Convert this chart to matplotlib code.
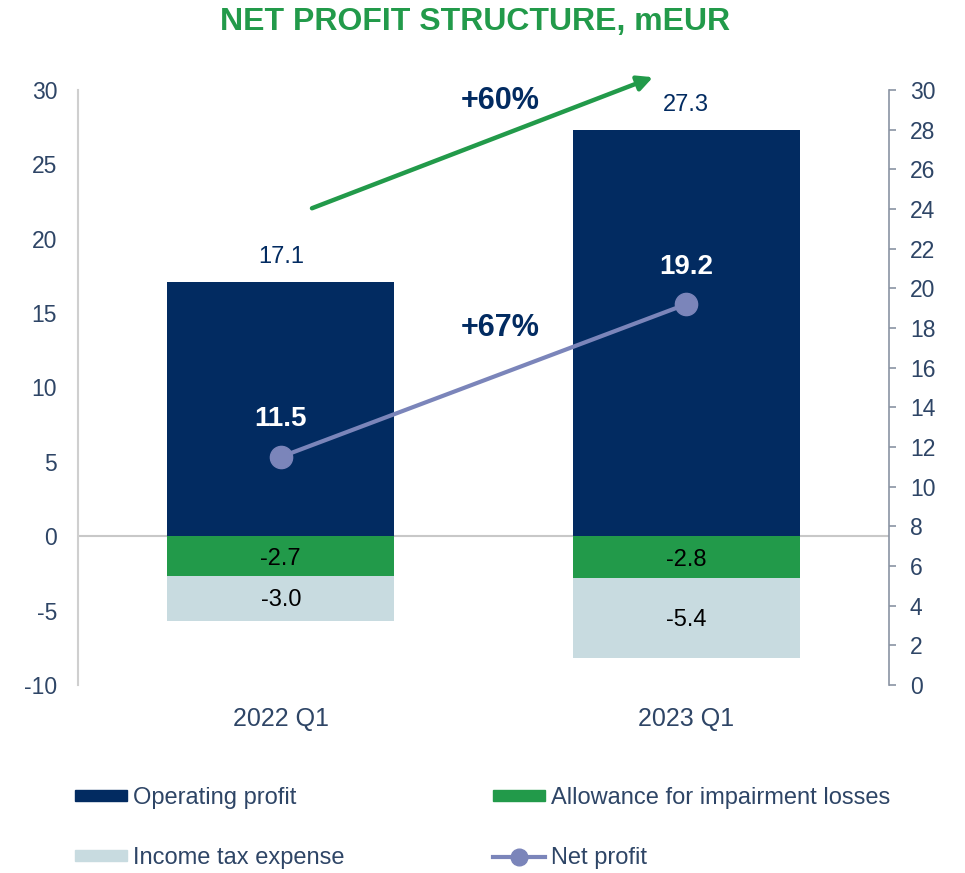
import matplotlib
matplotlib.use("Agg")
import matplotlib.pyplot as plt
from matplotlib.lines import Line2D
from matplotlib.patches import Patch

plt.rcParams['font.family'] = ['Liberation Sans', 'DejaVu Sans']
plt.rcParams['axes.unicode_minus'] = False

categories = ["2022 Q1", "2023 Q1"]
operating_profit = [17.1, 27.3]
allowance = [-2.7, -2.8]
income_tax = [-3.0, -5.4]
net_profit = [11.5, 19.2]
left_ticks = [-10, -5, 0, 5, 10, 15, 20, 25, 30]
right_ticks = list(range(0, 31, 2))
growth_operating = "+60%"
growth_net = "+67%"

C_NAVY = "#022B61"
C_GREEN = "#229A4A"
C_LIGHT = "#C8DBE0"
C_LINE = "#7B85BA"
C_TICK = "#2E4566"
C_TITLE = "#229A4A"

fig = plt.figure(figsize=(9.65, 8.73), dpi=100)
ax = fig.add_axes([78/965, 1-685/873, (889-78)/965, (685-90)/873])
ax2 = ax.twinx()

x = list(range(len(categories)))
w = 0.56
ax.bar(x, operating_profit, width=w, color=C_NAVY, zorder=2)
ax.bar(x, allowance, width=w, color=C_GREEN, zorder=2)
ax.bar(x, income_tax, width=w, bottom=allowance, color=C_LIGHT, zorder=2)
ax.axhline(0, color="#C8C8C8", lw=1.5, zorder=1)

ax.set_xlim(-0.5, 1.5)
ax.set_ylim(-10, 30)
ax.set_yticks(left_ticks)
ax.set_xticks(x)
ax.set_xticklabels(categories)
ax.tick_params(axis='y', length=0, pad=15, labelsize=16.5, labelcolor=C_TICK)
ax.tick_params(axis='x', length=0, pad=16, labelsize=18, labelcolor=C_TICK)
for s in ['top', 'right', 'bottom']:
    ax.spines[s].set_visible(False)
ax.spines['left'].set_color("#CFCFCF")
ax.spines['left'].set_linewidth(1.5)

# value labels
for xi, v in zip(x, operating_profit):
    ax.annotate(f"{v:.1f}", (xi, v), xytext=(0, 18), textcoords='offset points',
                ha='center', va='center', fontsize=17, color=C_NAVY)
for xi, a, t in zip(x, allowance, income_tax):
    ax.text(xi, a/2 - 0.2, f"{a:.1f}", ha='center', va='center', fontsize=17, color='black', zorder=3)
    ax.text(xi, a + t/2 - 0.1, f"{t:.1f}", ha='center', va='center', fontsize=17, color='black', zorder=3)

# net profit line on secondary axis
ax2.plot(x, net_profit, color=C_LINE, lw=3, marker='o', markersize=16, zorder=4)
ax2.set_ylim(0, 30)
ax2.set_yticks(right_ticks)
ax2.tick_params(axis='y', direction='out', length=5, width=1.2, color="#8A93A3",
                pad=10, labelsize=16.5, labelcolor=C_TICK)
for s in ['top', 'left', 'bottom']:
    ax2.spines[s].set_visible(False)
ax2.spines['right'].set_color("#8A93A3")
ax2.spines['right'].set_linewidth(1.2)
for xi, v in zip(x, net_profit):
    ax2.annotate(f"{v:.1f}", (xi, v), xytext=(0, 27), textcoords='offset points',
                 ha='center', va='center', fontsize=20, fontweight='bold', color='white')

# growth annotations
ax.text(0.54, 14.0, growth_net, ha='center', va='center', fontsize=22,
        fontweight='bold', color=C_NAVY)
ax.text(0.54, 29.26, growth_operating, ha='center', va='center', fontsize=22,
        fontweight='bold', color=C_NAVY, clip_on=False)
ax.annotate("", xy=(0.918, 30.86), xytext=(0.077, 22.05),
            arrowprops=dict(arrowstyle="-|>,head_length=0.9,head_width=0.45",
                            color=C_GREEN, lw=3.2, shrinkA=0, shrinkB=0),
            annotation_clip=False)

fig.text(475/965, 1-22/873, "NET PROFIT STRUCTURE, mEUR", ha='center', va='center',
         fontsize=23, fontweight='bold', color=C_TITLE)

handles = [Patch(color=C_NAVY), Patch(color=C_LIGHT), Patch(color=C_GREEN),
           Line2D([], [], color=C_LINE, lw=3, marker='o', markersize=12)]
labels = ["Operating profit", "Income tax expense", "Allowance for impairment losses", "Net profit"]
leg = fig.legend(handles, labels, loc='upper left', bbox_to_anchor=(75/965, 1-787/873),
                 ncol=2, frameon=False, fontsize=17, handlelength=2.2, handleheight=0.35,
                 handletextpad=0.25, columnspacing=6.3, labelspacing=1.6,
                 borderpad=0, borderaxespad=0)
for t in leg.get_texts():
    t.set_color(C_TICK)

fig.savefig("out.png", dpi=100)
